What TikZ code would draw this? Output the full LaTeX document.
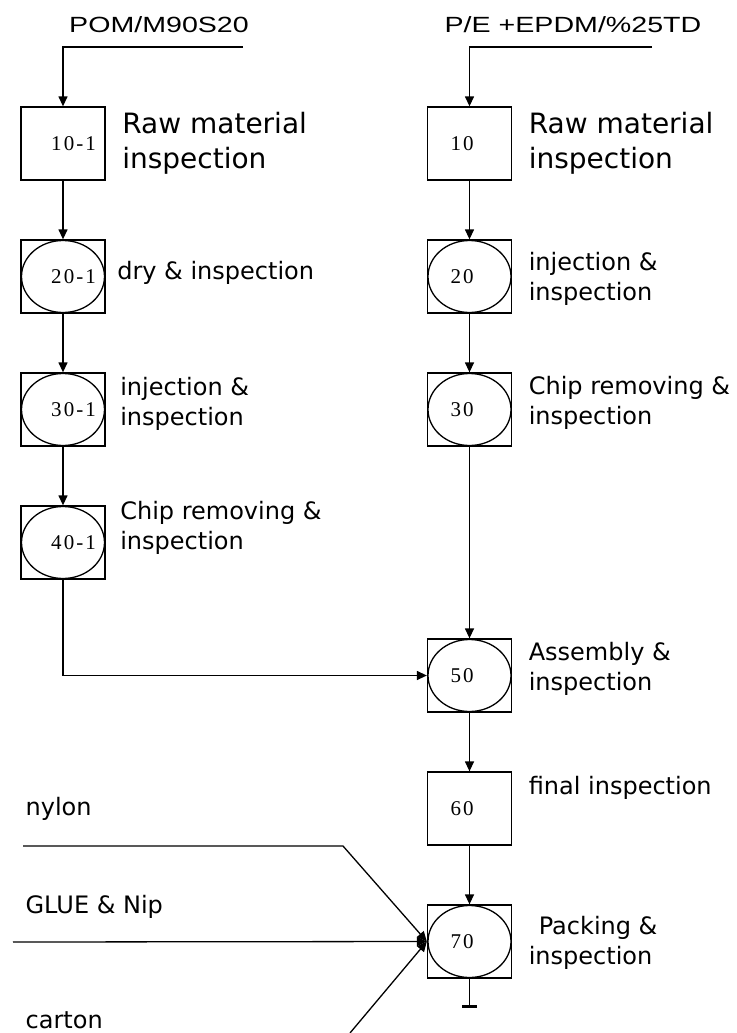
\documentclass[tikz,border=0pt]{standalone}
\usepackage{fontspec}
\usetikzlibrary{positioning,arrows.meta}

\newfontfamily\stepfont{DejaVu Sans}
\newfontfamily\feedfont{Liberation Sans}
\newfontfamily\numfont[LetterSpace=10]{Liberation Serif}

\tikzset{
  box node/.style={rectangle,draw,minimum width=84pt,minimum height=73pt,
                   font=\numfont\fontsize{21}{24}\selectfont},
  op node/.style={box node,
                  path picture={\draw (path picture bounding box.center) ellipse [x radius=41.5pt,y radius=36pt];}},
  num left/.style={text width=66pt,inner xsep=9pt,align=right},
  num right/.style={text width=38pt,inner xsep=23pt,align=left},
  big label/.style={inner sep=0pt,align=left,font=\stepfont\fontsize{28}{35}\selectfont},
  step label/.style={inner sep=0pt,align=left,font=\stepfont\fontsize{24}{30}\selectfont},
  feed label/.style={inner sep=0pt,font=\feedfont\fontsize{22}{26}\selectfont,xscale=1.3,transform shape}
}

\begin{document}
\begin{tikzpicture}[x=1pt,y=-1pt,
                    >={Triangle[length=10pt,width=9pt]},
                    line width=1.3pt,
                    node distance=133pt]

  \useasboundingbox (0,0) rectangle (736,1033);

  % left line
  \node[box node,num left] (P10a) at (63,143.5) {10-1};
  \node[op node,num left] (P20a) [below of=P10a] {20-1};
  \node[op node,num left] (P30a) [below of=P20a] {30-1};
  \node[op node,num left] (P40a) [below of=P30a] {40-1};

  % right line
  \node[box node,num right] (P10) at (469.5,143.5) {10};
  \node[op node,num right] (P20) [below of=P10] {20};
  \node[op node,num right] (P30) [below of=P20] {30};
  \node[op node,num right] (P50) [below of=P30,node distance=266pt] {50};
  \node[box node,num right] (P60) [below of=P50] {60};
  \node[op node,num right] (P70) [below of=P60] {70};

  % labels
  \node[big label,right=16pt of P10a] {Raw material\\inspection};
  \node[step label,right=11pt of P20a,yshift=4pt] {dry \& inspection};
  \node[step label,right=14pt of P30a,yshift=6pt] {injection \&\\inspection};
  \node[step label,right=14pt of P40a,yshift=15pt] {Chip removing \&\\inspection};
  \node[big label,right=16pt of P10] {Raw material\\inspection};
  \node[step label,right=16pt of P20,yshift=-2pt] {injection \&\\inspection};
  \node[step label,right=16pt of P30,yshift=7pt] {Chip removing \&\\inspection};
  \node[step label,right=16pt of P50,yshift=7pt] {Assembly \&\\inspection};
  \node[step label,right=16pt of P60,yshift=21pt] {final inspection};
  \node[step label,right=16pt of P70,yshift=-1pt] {\hspace*{10pt}Packing \&\\inspection};

  % feeds
  \node[feed label] (matA) at (159,25) {POM/M90S20};
  \node[feed label] (matB) at (573,25) {P/E +EPDM/\%25TD};
  \coordinate (inA) at (243,47);
  \coordinate (inB) at (652,47);

  \node[step label,anchor=west] (nylon) at (25,809) {nylon};
  \node[step label,anchor=west] (glue) at (25,907) {GLUE \& Nip};
  \node[step label,anchor=west] (carton) at (25,1020) {carton};
  \coordinate (nylonS) at (23,846);
  \coordinate (nylonK) at (343,846);
  \coordinate (glueS) at (13,942);
  \coordinate (cartonS) at (350,1033);
  \coordinate[below=29pt of P70] (out);

  \draw[->] (inA) -| (P10a.north);
  \draw[->] (P10a) -- (P20a);
  \draw[->] (P20a) -- (P30a);
  \draw[->] (P30a) -- (P40a);
  \draw[->] (P40a.south) |- (P50.west);

  \draw[->] (inB) -| (P10.north);
  \draw[->] (P10) -- (P20);
  \draw[->] (P20) -- (P30);
  \draw[->] (P30) -- (P50);
  \draw[->] (P50) -- (P60);
  \draw[->] (P60) -- (P70);
  \draw[-{Bar[width=15pt,line width=2.5pt]}] (P70) -- (out);

  \draw[->] (nylonS) -- (nylonK) -- (P70.west);
  \draw[->] (glueS) -- (P70.west);
  \draw[->] (cartonS) -- (P70.west);
\end{tikzpicture}
\end{document}
